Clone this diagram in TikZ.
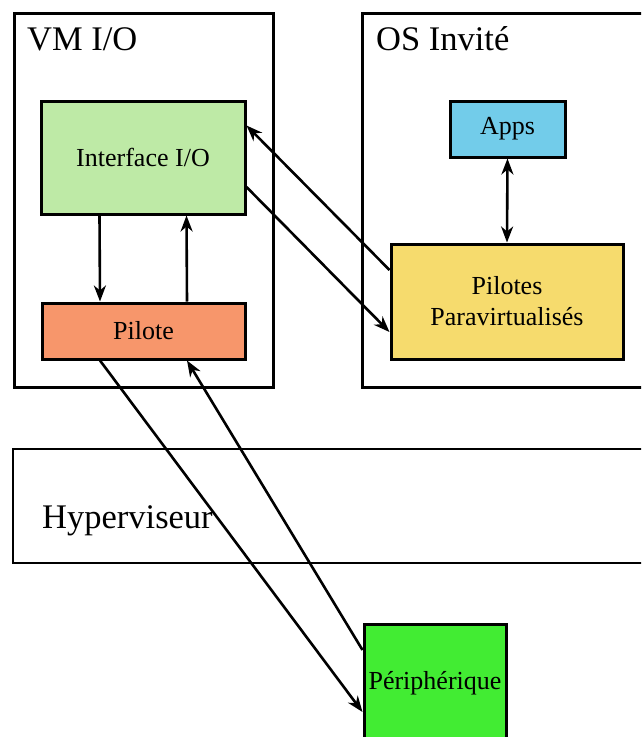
\documentclass[tikz,border=0pt]{standalone}
\usepackage{fontspec}
\setmainfont{Liberation Serif}
\usetikzlibrary{arrows.meta,calc}
\definecolor{cIface}{HTML}{BEEAA6}
\definecolor{cPilote}{HTML}{F7966B}
\definecolor{cApps}{HTML}{72CCEA}
\definecolor{cPara}{HTML}{F6DB6D}
\definecolor{cPeriph}{HTML}{42EC33}
\tikzset{
  box/.style={draw=black, line width=3pt, inner sep=0pt, align=center,
    font=\fontsize{26}{31}\selectfont},
  frame/.style={draw=black, line width=2.8pt, inner sep=0pt},
  title/.style={inner sep=0pt, anchor=base west, font=\fontsize{34.5}{40}\selectfont},
  tip/.style={},
  conn/.style={line width=2.6pt, -{Stealth[length=16pt,width=12pt,inset=5pt]}},
  conn2/.style={line width=2.6pt, {Stealth[length=16pt,width=12pt,inset=5pt]}-{Stealth[length=16pt,width=12pt,inset=5pt]}}
}
\begin{document}
\begin{tikzpicture}[x=1pt,y=-1pt]
\useasboundingbox (0,0) rectangle (641,737);
\clip (0,0) rectangle (641,737);
\fill[white] (0,0) rectangle (641,737);
% frames
\node[frame, minimum width=259pt, minimum height=374pt] (vm) at (144,200.5) {};
\node[frame, minimum width=298pt, minimum height=374pt] (os) at (511.5,200.5) {};
\node[frame, minimum width=700pt, minimum height=114pt] (hyp) at (363,506) {};
\node[title] (vmt) at (27,50) {VM I/O};
\node[title] (ost) at (376,50) {OS Invité};
\node[title] (hypt) at (42,528) {Hyperviseur};
% boxes
\node[box, fill=cIface, minimum width=204pt, minimum height=113pt] (iface) at (143,157.5) {Interface I/O};
\node[box, fill=cPilote, minimum width=203pt, minimum height=56pt] (pilote) at (143.5,331) {Pilote};
\node[box, fill=cApps, minimum width=115pt, minimum height=56pt] (apps) at (507.5,129) {Apps};
\node[box, fill=cPara, minimum width=232pt, minimum height=115pt] (para) at (507,301.5) {Pilotes\\Paravirtualisés};
\node[box, fill=cPeriph, minimum width=142pt, minimum height=118pt] (periph) at (435,683) {Périphérique};
% connectors
\draw[conn] ([xshift=-43.5pt]iface.south) -- ([xshift=-43.5pt]pilote.north);
\draw[conn] ([xshift=43.5pt]pilote.north) -- ([xshift=43.5pt]iface.south);
\draw[conn2] (apps.south) -- (para.north);
\draw[conn] ([yshift=31.5pt]para.west) -- ([yshift=32pt]iface.east);
\draw[conn] ([yshift=-29.5pt]iface.east) -- ([yshift=-30.5pt]para.west);
\draw[conn] ([xshift=-43.5pt]pilote.south) -- ([yshift=-29pt]periph.west);
\draw[conn] ([yshift=33pt]periph.west) -- ([xshift=43.5pt]pilote.south);
\end{tikzpicture}
\end{document}
